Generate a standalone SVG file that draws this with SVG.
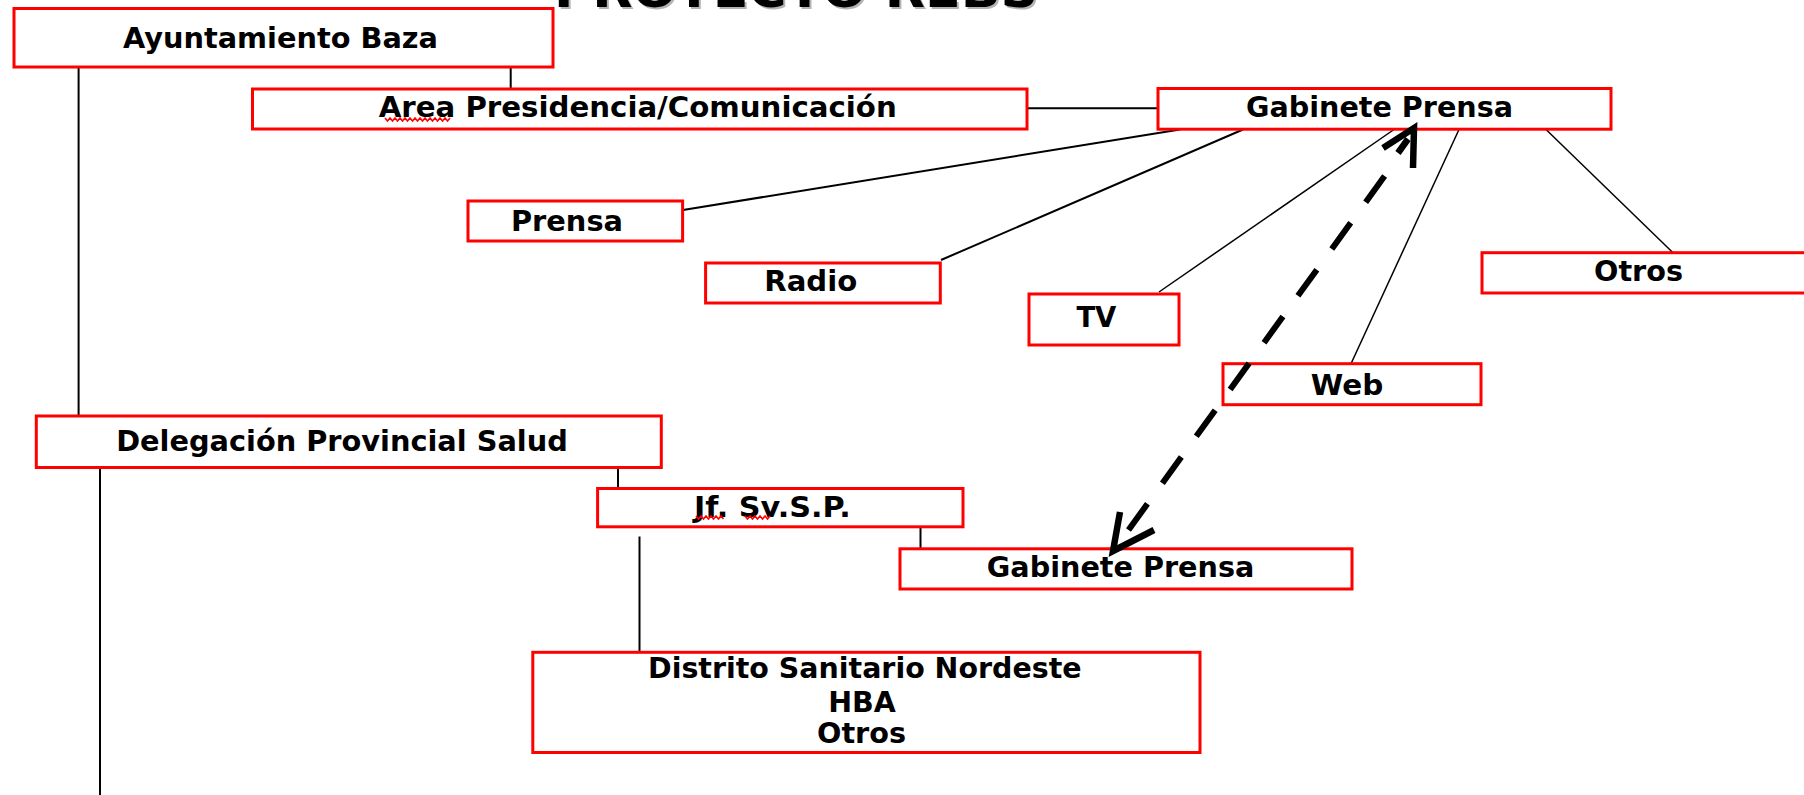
<svg xmlns="http://www.w3.org/2000/svg" width="1804" height="795" viewBox="0 0 1804 795">
<style>
.box{fill:#fff;stroke:#f00;stroke-width:3}
.lbl{font-family:"DejaVu Sans","Liberation Sans",sans-serif;font-weight:bold;font-size:28px;text-anchor:middle;fill:#000}
.ttl{font-family:"DejaVu Sans","Liberation Sans",sans-serif;font-weight:bold;font-size:50px}
.ln{stroke:#000;stroke-width:2;fill:none}
.thin{stroke:#000;stroke-width:1.5;fill:none}
.dash{stroke:#000;stroke-width:6;fill:none;stroke-dasharray:32.3 25.5}
.head{stroke:#000;stroke-width:6.5;fill:none;stroke-linejoin:miter;stroke-linecap:butt}
.sq{stroke:#f00;stroke-width:1.6;fill:none}
</style>
<rect width="1804" height="795" fill="#fff"/>
<g id="title">
<text class="ttl" x="556" y="9" textLength="484" lengthAdjust="spacingAndGlyphs" fill="#b4b4b4">PROYECTO REBS</text>
<text class="ttl" x="554" y="7" textLength="484" lengthAdjust="spacingAndGlyphs" fill="#000">PROYECTO REBS</text>
</g>
<g id="connectors">
<line class="ln" x1="78.6" y1="67" x2="78.6" y2="416"/>
<line class="ln" x1="100" y1="467.5" x2="100" y2="795"/>
<line class="ln" x1="510.7" y1="67" x2="510.7" y2="89"/>
<line class="ln" x1="1027" y1="108.3" x2="1158" y2="108.3"/>
<line class="ln" x1="618" y1="467.5" x2="618" y2="488.5"/>
<line class="ln" x1="920.5" y1="526.8" x2="920.5" y2="548.8"/>
<line class="ln" x1="639.5" y1="536.5" x2="639.5" y2="652.3"/>
<line class="ln" x1="683" y1="210" x2="1180" y2="129.5"/>
<line class="ln" x1="941" y1="260" x2="1243" y2="129.5"/>
<line class="thin" x1="1159" y1="292" x2="1394" y2="129.5"/>
<line class="thin" x1="1351" y1="363.7" x2="1459" y2="129.5"/>
<line class="thin" x1="1673" y1="252.7" x2="1546" y2="129.5"/>
</g>
<g id="n-ayuntamiento"><rect class="box" x="14" y="8.5" width="539" height="58.5"/><text class="lbl" x="280.5" y="47.7" textLength="315" lengthAdjust="spacingAndGlyphs">Ayuntamiento Baza</text></g>
<g id="n-area"><rect class="box" x="252.5" y="89" width="774.5" height="40"/><text class="lbl" x="637.7" y="117" textLength="518" lengthAdjust="spacingAndGlyphs">Area Presidencia/Comunicación</text><path class="sq" d="M385,118 l2.5,3 l2.5,-3 l2.5,3 l2.5,-3 l2.5,3 l2.5,-3 l2.5,3 l2.5,-3 l2.5,3 l2.5,-3 l2.5,3 l2.5,-3 l2.5,3 l2.5,-3 l2.5,3 l2.5,-3 l2.5,3 l2.5,-3 l2.5,3 l2.5,-3 l2.5,3 l2.5,-3 l2.5,3 l2.5,-3 l2.5,3 l2.5,-3"/></g>
<g id="n-gabinete1"><rect class="box" x="1158" y="88.5" width="453" height="40.7"/><text class="lbl" x="1379.5" y="117.3" textLength="267" lengthAdjust="spacingAndGlyphs">Gabinete Prensa</text></g>
<g id="n-prensa"><rect class="box" x="468" y="201" width="214.6" height="40"/><text class="lbl" x="567" y="231" textLength="112" lengthAdjust="spacingAndGlyphs">Prensa</text></g>
<g id="n-radio"><rect class="box" x="705.6" y="263" width="234.7" height="40"/><text class="lbl" x="810.7" y="291" textLength="93" lengthAdjust="spacingAndGlyphs">Radio</text></g>
<g id="n-tv"><rect class="box" x="1029" y="294" width="150" height="51"/><text class="lbl" x="1096.4" y="327" textLength="40" lengthAdjust="spacingAndGlyphs">TV</text></g>
<g id="n-otros1"><rect class="box" x="1482" y="252.7" width="330" height="40.3"/><text class="lbl" x="1638.5" y="281" textLength="89" lengthAdjust="spacingAndGlyphs">Otros</text></g>
<g id="n-web"><rect class="box" x="1223" y="363.7" width="258" height="41"/><text class="lbl" x="1347" y="395" textLength="72.5" lengthAdjust="spacingAndGlyphs">Web</text></g>
<g id="n-delegacion"><rect class="box" x="36.3" y="416" width="625" height="51.5"/><text class="lbl" x="342" y="450.7" textLength="451.6" lengthAdjust="spacingAndGlyphs">Delegación Provincial Salud</text></g>
<g id="n-jf"><rect class="box" x="597.6" y="488.5" width="365.4" height="38.3"/><text class="lbl" x="772.3" y="516.7" textLength="156.7" lengthAdjust="spacingAndGlyphs">Jf. Sv.S.P.</text><path class="sq" d="M696,516 l2.5,3 l2.5,-3 l2.5,3 l2.5,-3 l2.5,3 l2.5,-3 l2.5,3 l2.5,-3 l2.5,3 l2.5,-3 l2.5,3"/><path class="sq" d="M745,516 l2.5,3 l2.5,-3 l2.5,3 l2.5,-3 l2.5,3 l2.5,-3 l2.5,3 l2.5,-3 l2.5,3 l2.5,-3"/></g>
<g id="n-gabinete2"><rect class="box" x="900" y="548.8" width="452" height="40.2"/><text class="lbl" x="1120.6" y="576.7" textLength="267.5" lengthAdjust="spacingAndGlyphs">Gabinete Prensa</text></g>
<g id="n-distrito"><rect class="box" x="532.8" y="652.3" width="667.2" height="100.2"/>
<text class="lbl" x="864.8" y="678.3" textLength="433.5" lengthAdjust="spacingAndGlyphs">Distrito Sanitario Nordeste</text>
<text class="lbl" x="862" y="712.3" textLength="67.7" lengthAdjust="spacingAndGlyphs">HBA</text>
<text class="lbl" x="861.5" y="743.3" textLength="89" lengthAdjust="spacingAndGlyphs">Otros</text></g>
<g id="arrow">
<line class="dash" x1="1384.6" y1="176" x2="1128.5" y2="530"/>
<path class="head" d="M1383,148 L1414,128 L1413,168"/>
<path class="head" d="M1398,153 L1408,139"/>
<path class="head" d="M1120,512 L1113,551 L1154,530"/>
</g>
</svg>
